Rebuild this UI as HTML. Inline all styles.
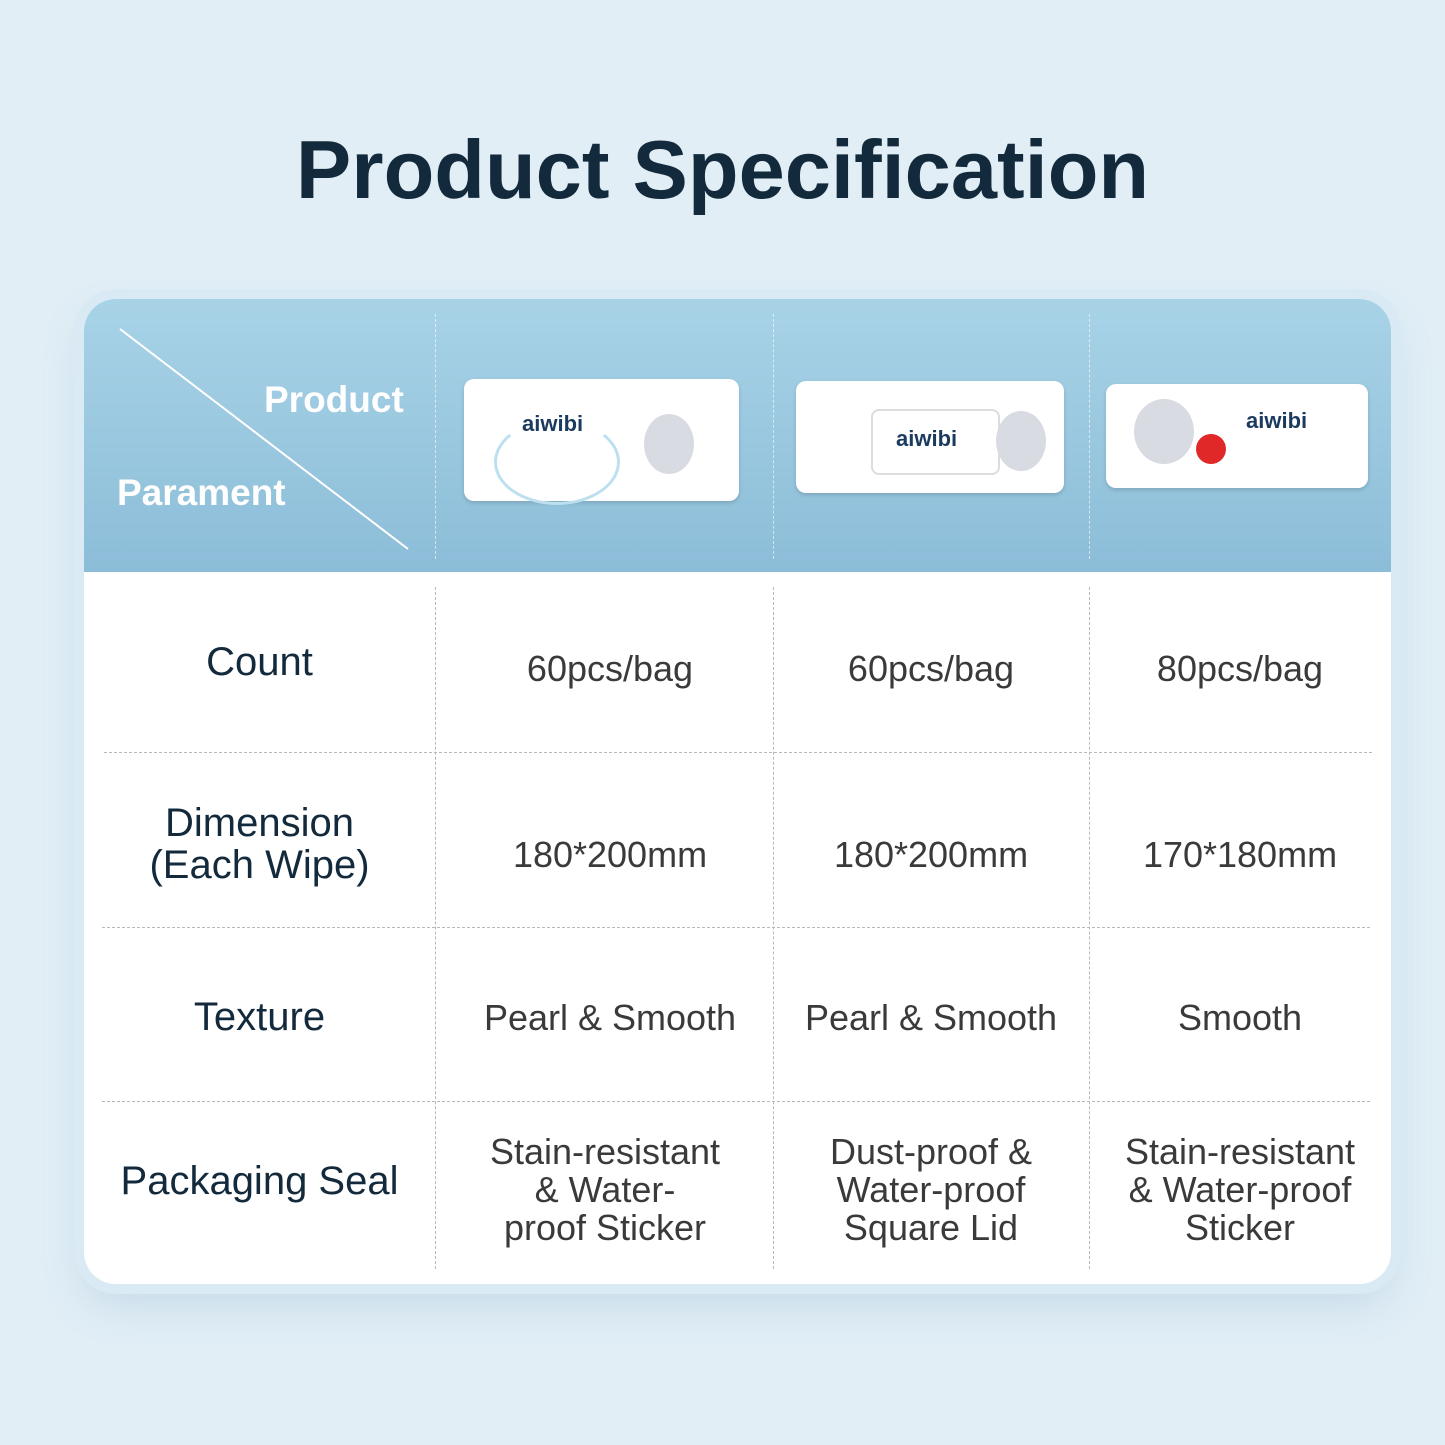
<!DOCTYPE html>
<html><head><meta charset="utf-8"><style>
body{margin:0;width:1445px;height:1445px;background:#e1eef6;font-family:"Liberation Sans",sans-serif;position:relative;overflow:hidden}
.t{position:absolute;left:0;width:1445px;top:122px;text-align:center;font-size:83px;font-weight:bold;color:#132a3c}
.card{position:absolute;left:84px;top:299px;width:1307px;height:985px;background:#fff;border-radius:32px;overflow:hidden;box-shadow:0 0 0 10px #d9eaf4,0 20px 40px rgba(120,160,190,.25)}
.hd{position:absolute;left:0;top:0;width:1307px;height:273px;background:linear-gradient(#a8d3e7,#8cbdd8)}
.vl{position:absolute;width:0;border-left:1.5px dashed #b8b8b8}
.hl{position:absolute;height:0;border-top:1.5px dashed #b8b8b8}
.c{position:absolute;display:flex;align-items:center;justify-content:center;text-align:center;line-height:38px}
.lab{color:#132a3c;font-size:40px}
.val{color:#3a3a3a;font-size:36px}
.pk{position:absolute;background:#fff;border-radius:10px;box-shadow:0 2px 4px rgba(0,0,0,.15);font-weight:bold;color:#1a3a5e;font-size:22px}
.pk span{position:absolute}
.hv{position:absolute;border-left:1.5px dashed rgba(255,255,255,.6)}
</style></head><body>
<div class="t">Product Specification</div>
<div class="card">
<div class="hd"></div>
<svg style="position:absolute;left:0;top:0" width="340" height="273"><line x1="36" y1="30" x2="324" y2="250" stroke="#fff" stroke-width="2"/></svg>
<div style="position:absolute;left:180px;top:80px;color:#fff;font-weight:bold;font-size:37px">Product</div>
<div style="position:absolute;left:33px;top:173px;color:#fff;font-weight:bold;font-size:37px">Parament</div>
<div class="hv" style="left:351px;top:15px;height:245px"></div>
<div class="hv" style="left:689px;top:15px;height:245px"></div>
<div class="hv" style="left:1005px;top:15px;height:245px"></div>
<div class="pk" style="left:380px;top:80px;width:275px;height:122px"><span style="left:58px;top:32px">aiwibi</span><div style="position:absolute;left:30px;top:40px;width:120px;height:80px;border-radius:50%;border:3px solid #bde0f0;border-top-color:transparent"></div><div style="position:absolute;left:180px;top:35px;width:50px;height:60px;border-radius:50%;background:#d8dbe2"></div></div>
<div class="pk" style="left:712px;top:82px;width:268px;height:112px"><div style="position:absolute;left:75px;top:28px;width:125px;height:62px;border:2px solid #ddd;border-radius:8px"></div><span style="left:100px;top:45px">aiwibi</span><div style="position:absolute;left:200px;top:30px;width:50px;height:60px;border-radius:50%;background:#d8dbe2"></div></div>
<div class="pk" style="left:1022px;top:85px;width:262px;height:104px"><span style="left:140px;top:24px">aiwibi</span><div style="position:absolute;left:28px;top:15px;width:60px;height:65px;border-radius:50%;background:#d8dbe2"></div><div style="position:absolute;left:90px;top:50px;width:30px;height:30px;border-radius:50%;background:#e02828"></div></div>
<div class="vl" style="left:351px;top:288px;height:682px"></div>
<div class="vl" style="left:689px;top:288px;height:682px"></div>
<div class="vl" style="left:1005px;top:288px;height:682px"></div>
<div class="hl" style="left:20px;top:453px;width:1268px"></div>
<div class="hl" style="left:18px;top:628px;width:1268px"></div>
<div class="hl" style="left:18px;top:802px;width:1268px"></div>
<div class="c lab" style="left:0;top:273px;width:351px;height:180px;box-sizing:border-box">Count</div>
<div class="c val" style="left:351px;top:280px;width:350px;height:180px">60pcs/bag</div>
<div class="c val" style="left:689px;top:280px;width:316px;height:180px">60pcs/bag</div>
<div class="c val" style="left:1005px;top:280px;width:302px;height:180px">80pcs/bag</div>
<div class="c lab" style="left:0;top:457px;width:351px;height:175px;line-height:42px">Dimension<br>(Each Wipe)</div>
<div class="c val" style="left:351px;top:468px;width:350px;height:175px">180*200mm</div>
<div class="c val" style="left:689px;top:468px;width:316px;height:175px">180*200mm</div>
<div class="c val" style="left:1005px;top:468px;width:302px;height:175px">170*180mm</div>
<div class="c lab" style="left:0;top:631px;width:351px;height:174px">Texture</div>
<div class="c val" style="left:351px;top:632px;width:350px;height:174px">Pearl &amp; Smooth</div>
<div class="c val" style="left:689px;top:632px;width:316px;height:174px">Pearl &amp; Smooth</div>
<div class="c val" style="left:1005px;top:632px;width:302px;height:174px">Smooth</div>
<div class="c lab" style="left:0;top:802px;width:351px;height:160px">Packaging Seal</div>
<div class="c val" style="left:386px;top:802px;width:270px;height:178px">Stain-resistant<br>&amp; Water-<br>proof Sticker</div>
<div class="c val" style="left:689px;top:802px;width:316px;height:178px">Dust-proof &amp;<br>Water-proof<br>Square Lid</div>
<div class="c val" style="left:1005px;top:802px;width:302px;height:178px">Stain-resistant<br>&amp; Water-proof<br>Sticker</div>
</div>
</body></html>
